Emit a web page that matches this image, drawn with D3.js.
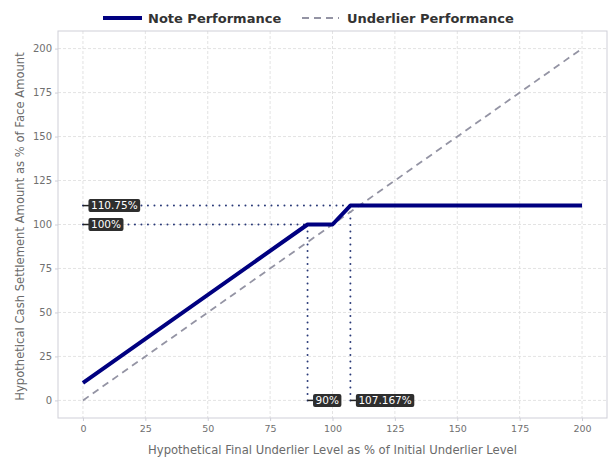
<!DOCTYPE html>
<html><head><meta charset="utf-8">
<script src="https://cdn.jsdelivr.net/npm/d3@7"></script>
<style>body{margin:0;background:#fff;font-family:"DejaVu Sans",sans-serif;}</style>
</head><body><svg id="c" width="609" height="466"></svg>
<script>
const noteX = [0, 90, 100, 107.167, 200];
const noteY = [10, 100, 100, 110.75, 110.75];
const underX = [0, 200];
const underY = [0, 200];
const xTicks = [0, 25, 50, 75, 100, 125, 150, 175, 200];
const yTicks = [0, 25, 50, 75, 100, 125, 150, 175, 200];
const hRefs = [{y: 110.75, x: 107.167, label: "110.75%"}, {y: 100, x: 90, label: "100%"}];
const vRefs = [{x: 90, y: 100, label: "90%"}, {x: 107.167, y: 110.75, label: "107.167%"}];

const svg = d3.select("#c");
const L = 58, R = 607, T = 31, B = 418;
const x = d3.scaleLinear().domain([-10, 210]).range([L, R]);
const y = d3.scaleLinear().domain([-10, 210]).range([B, T]);

// grid
const g = svg.append("g");
g.selectAll(".gx").data(xTicks).join("line")
  .attr("x1", d => x(d)).attr("x2", d => x(d)).attr("y1", T).attr("y2", B)
  .attr("stroke", "#dcdcdc").attr("stroke-width", 0.8).attr("stroke-dasharray", "3,2");
g.selectAll(".gy").data(yTicks).join("line")
  .attr("y1", d => y(d)).attr("y2", d => y(d)).attr("x1", L).attr("x2", R)
  .attr("stroke", "#dcdcdc").attr("stroke-width", 0.8).attr("stroke-dasharray", "3,2");
svg.append("rect").attr("x", L).attr("y", T).attr("width", R - L).attr("height", B - T)
  .attr("fill", "none").attr("stroke", "#cfcfd8").attr("stroke-width", 1);

// axes
const xa = svg.append("g").attr("transform", `translate(0,${B})`)
  .call(d3.axisBottom(x).tickValues(xTicks).tickSize(3).tickPadding(4));
const ya = svg.append("g").attr("transform", `translate(${L},0)`)
  .call(d3.axisLeft(y).tickValues(yTicks).tickSize(3).tickPadding(3));
[xa, ya].forEach(a => {
  a.select(".domain").remove();
  a.selectAll(".tick line").attr("stroke", "#cfcfd8");
  a.selectAll("text").attr("fill", "#707070").attr("font-size", 10).attr("font-family", "DejaVu Sans");
});
xa.selectAll("text").attr("font-size", 9.5);

svg.append("text").attr("x", (L + R) / 2 + 0).attr("y", 454).attr("text-anchor", "middle")
  .attr("font-size", 11.6).attr("fill", "#6a6a6a").text("Hypothetical Final Underlier Level as % of Initial Underlier Level");
svg.append("text").attr("transform", `translate(24,${(T + B) / 2 + 2}) rotate(-90)`).attr("text-anchor", "middle")
  .attr("font-size", 11.6).attr("fill", "#6a6a6a").text("Hypothetical Cash Settlement Amount as % of Face Amount");

// reference dotted lines
const dotC = "#2a3a78";
svg.selectAll(".hr").data(hRefs).join("line")
  .attr("x1", x(0)).attr("x2", d => x(d.x)).attr("y1", d => y(d.y)).attr("y2", d => y(d.y))
  .attr("stroke", dotC).attr("stroke-width", 2).attr("stroke-dasharray", "0,6.5").attr("stroke-linecap", "round");
svg.selectAll(".vr").data(vRefs).join("line")
  .attr("x1", d => x(d.x)).attr("x2", d => x(d.x)).attr("y1", y(0)).attr("y2", d => y(d.y))
  .attr("stroke", dotC).attr("stroke-width", 2).attr("stroke-dasharray", "0,6.5").attr("stroke-linecap", "round");

// lines
const line = d3.line().x(d => x(d[0])).y(d => y(d[1]));
svg.append("path").datum(underX.map((v, i) => [v, underY[i]])).attr("d", line)
  .attr("fill", "none").attr("stroke", "#9494a4").attr("stroke-width", 1.8).attr("stroke-dasharray", "7,5");
svg.append("path").datum(noteX.map((v, i) => [v, noteY[i]])).attr("d", line)
  .attr("fill", "none").attr("stroke", "#000080").attr("stroke-width", 4).attr("stroke-linejoin", "round");

// labels
function addLabel(px, py, txt) {
  const gg = svg.append("g");
  gg.append("line").attr("x1", px).attr("x2", px + 6).attr("y1", py).attr("y2", py)
    .attr("stroke", "#222").attr("stroke-width", 1.5);
  const t = gg.append("text").attr("x", px + 8).attr("y", py + 3.8).attr("font-size", 10.5)
    .attr("fill", "#fff").text(txt);
  const w = t.node().getComputedTextLength();
  gg.insert("rect", "text").attr("x", px + 5.5).attr("y", py - 6.5).attr("width", w + 5).attr("height", 13)
    .attr("rx", 2).attr("fill", "#2e2e2e");
}
hRefs.forEach(d => addLabel(x(0), y(d.y), d.label));
vRefs.forEach(d => addLabel(x(d.x), y(0), d.label));

// legend
const lg = svg.append("g").attr("font-weight", "bold").attr("font-size", 13).attr("fill", "#333");
lg.append("line").attr("x1", 103).attr("x2", 142).attr("y1", 18).attr("y2", 18)
  .attr("stroke", "#000080").attr("stroke-width", 4);
lg.append("text").attr("x", 148).attr("y", 23).text("Note Performance");
lg.append("line").attr("x1", 302).attr("x2", 339).attr("y1", 18).attr("y2", 18)
  .attr("stroke", "#9494a4").attr("stroke-width", 1.8).attr("stroke-dasharray", "7,5");
lg.append("text").attr("x", 347).attr("y", 23).text("Underlier Performance");
</script></body></html>
